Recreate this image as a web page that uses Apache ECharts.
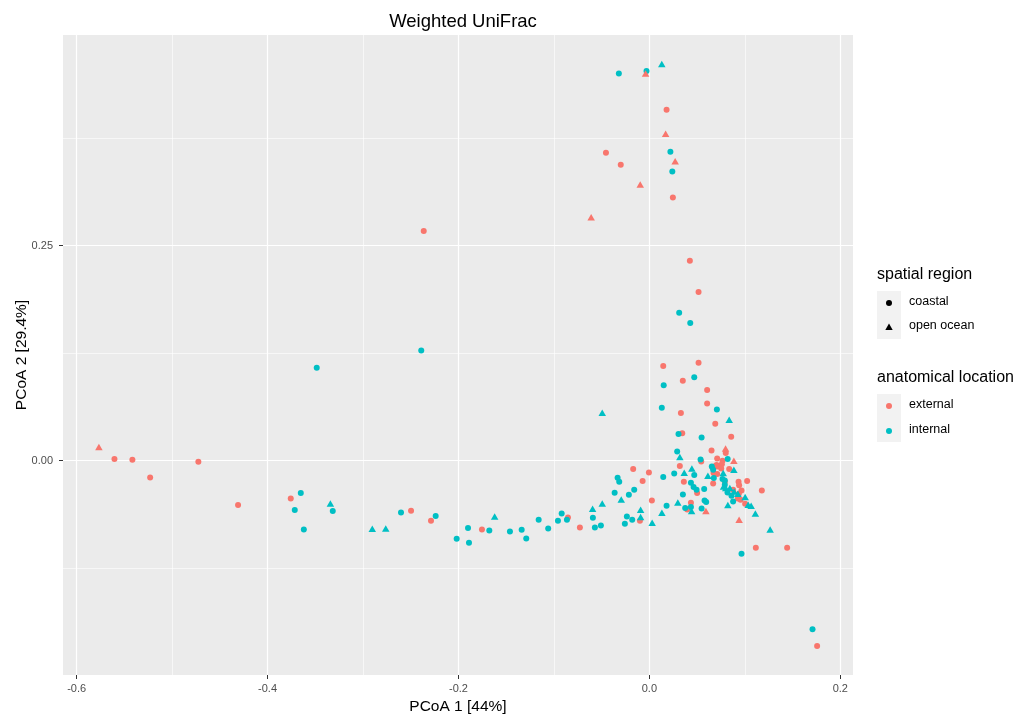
<!DOCTYPE html>
<html><head><meta charset="utf-8">
<script src="https://cdn.jsdelivr.net/npm/echarts@6/dist/echarts.min.js"></script>
<style>html,body{margin:0;padding:0;background:#fff}#c{width:1016px;height:721px}</style>
</head><body><div id="c"></div>
<script>
// ---- data ----
const xMajorTicks = [-0.6, -0.4, -0.2, 0.0, 0.2];
const xMinorTicks = [-0.5, -0.3, -0.1, 0.1];
const yMajorTicks = [0.0, 0.25];
const yMinorTicks = [-0.125, 0.125, 0.375];

const externalCoastal = [
  [-0.0455,0.358],[-0.030,0.344],[0.018,0.408],[0.0246,0.306],[-0.2364,0.267],[0.0424,0.2325],
  [0.0515,0.196],[0.0145,0.110],[0.0515,0.1137],[0.035,0.093],[0.0605,0.0823],[0.0605,0.0664],
  [0.033,0.0553],[0.069,0.0429],[0.0344,0.032],[0.0857,0.0278],[0.0651,0.0118],[0.080,0.0088],
  [0.0543,-0.0009],[0.071,0.0026],[0.0766,0.000],[-0.017,-0.0098],[-0.0005,-0.0137],[-0.0071,-0.0237],
  [0.0319,-0.0063],[0.0361,-0.0245],[0.050,-0.0376],[0.0662,-0.0079],[0.0704,-0.0051],[0.0759,-0.004],
  [0.0026,-0.0462],[0.0435,-0.0489],[0.0396,-0.0567],[-0.0728,-0.0776],[-0.0099,-0.0698],[0.1178,-0.0346],
  [0.1024,-0.0237],[0.0836,-0.0098],[0.0679,-0.0067],[0.071,-0.0067],[0.0752,-0.009],[0.0672,-0.0144],
  [0.071,-0.0156],[0.0668,-0.0265],[0.0934,-0.0245],[0.094,-0.0284],[0.079,-0.0245],[0.0877,-0.0338],
  [0.0965,-0.0346],[0.0937,-0.0384],[0.0927,-0.0439],[0.0955,-0.0454],[0.1003,-0.050],[0.1115,-0.1012],
  [0.1443,-0.1012],[0.1757,-0.2153],[-0.5604,0.0019],[-0.5416,0.001],[-0.523,-0.0195],[-0.4725,-0.0013],
  [-0.4309,-0.0516],[-0.3757,-0.0439],[-0.2497,-0.0582],[-0.2288,-0.0698],[-0.1754,-0.0799],[-0.0853,-0.066]
];
const externalOpenOcean = [
  [-0.004,0.450],[0.017,0.380],[0.027,0.348],[-0.0096,0.321],[-0.061,0.283],[0.0798,0.0142],
  [0.0885,0.000],[0.0592,-0.0585],[0.094,-0.0686],[-0.5767,0.0158]
];
const internalCoastal = [
  [-0.032,0.450],[-0.003,0.453],[0.022,0.359],[0.024,0.336],[-0.239,0.128],[-0.3485,0.108],
  [0.0312,0.172],[0.0428,0.160],[0.047,0.097],[0.015,0.0878],[0.013,0.0614],[0.0707,0.0595],
  [0.0305,0.031],[0.0547,0.027],[0.0291,0.0107],[0.0536,0.0014],[0.082,0.002],[-0.0333,-0.0199],
  [-0.0316,-0.0245],[0.0145,-0.019],[0.026,-0.0149],[0.047,-0.0167],[0.0435,-0.0257],[0.0463,-0.0307],
  [0.0494,-0.0338],[0.0574,-0.033],[-0.0364,-0.0373],[-0.0215,-0.0396],[-0.0159,-0.0338],[0.018,-0.0524],
  [0.0351,-0.0393],[0.0375,-0.0551],[0.0435,-0.0539],[0.0578,-0.0462],[0.0595,-0.0481],[0.0547,-0.0555],
  [-0.0592,-0.0663],[-0.0571,-0.0776],[-0.0508,-0.0753],[-0.0257,-0.0733],[-0.0236,-0.0648],[-0.018,-0.0686],
  [0.0654,-0.0067],[0.0668,-0.0106],[0.0675,-0.0202],[0.0766,-0.0214],[0.079,-0.023],[0.079,-0.028],
  [0.0818,-0.0369],[0.086,-0.0408],[0.0877,-0.0474],[0.0965,-0.1081],[0.1709,-0.196],[-0.3652,-0.0376],
  [-0.3715,-0.0574],[-0.362,-0.0799],[-0.3317,-0.0585],[-0.2602,-0.0602],[-0.2239,-0.0644],[-0.2019,-0.0907],
  [-0.19,-0.0783],[-0.189,-0.0954],[-0.1677,-0.0811],[-0.1461,-0.0822],[-0.1338,-0.0803],[-0.129,-0.0904],
  [-0.116,-0.0686],[-0.106,-0.0787],[-0.0958,-0.0698],[-0.0919,-0.0613],[-0.0864,-0.0686]
];
const internalOpenOcean = [
  [0.013,0.461],[-0.0494,0.0556],[0.0836,0.0475],[0.0319,0.0042],[0.0365,-0.014],[0.0445,-0.0091],
  [0.0613,-0.0175],[-0.0295,-0.045],[0.0298,-0.0485],[0.0442,-0.0585],[-0.0595,-0.0559],[-0.0494,-0.0497],
  [-0.0092,-0.057],[-0.0092,-0.0655],[0.0029,-0.0721],[0.0131,-0.0605],[0.111,-0.0613],[0.1265,-0.080],
  [0.0822,-0.0516],[0.0885,-0.0106],[0.0773,-0.0144],[0.0777,-0.030],[0.080,-0.0318],[0.0843,-0.0318],
  [0.0888,-0.0358],[0.0927,-0.0384],[0.1003,-0.0423],[0.1035,-0.0512],[0.1066,-0.0524],[-0.3342,-0.0497],
  [-0.2903,-0.0791],[-0.2762,-0.0787],[-0.1621,-0.0648]
];

const COL_EXT = '#F8766D', COL_INT = '#00BFC4';
const FONT = 'Liberation Sans, Arial, sans-serif';
const xMin = -0.6143, xMax = 0.2133, yMin = -0.2491, yMax = 0.4948;

function sc(name, data, color, symbol, size) {
  return { type: 'scatter', name, data, symbol, symbolSize: size,
    itemStyle: { color, opacity: 1 }, silent: true, animation: false };
}

function majorAxis(min, max, ticks, fmt, isX) {
  return {
    type: 'value', min, max, gridIndex: 0,
    position: isX ? 'bottom' : 'left',
    axisLine: { show: false, onZero: false },
    axisTick: { show: true, length: 4, lineStyle: { color: '#333333', width: 1 }, customValues: ticks },
    axisLabel: { show: true, customValues: ticks, formatter: v => v.toFixed(fmt),
      color: '#4D4D4D', fontSize: 11, fontFamily: FONT, margin: isX ? 8 : 10 },
    splitLine: { show: true, customValues: ticks, lineStyle: { color: '#FFFFFF', width: 1.2 } },
    minorTick: { show: false }, minorSplitLine: { show: false }
  };
}
function minorAxis(min, max, ticks, isX) {
  return {
    type: 'value', min, max, gridIndex: 0,
    position: isX ? 'top' : 'right',
    axisLine: { show: false, onZero: false },
    axisTick: { show: false, customValues: ticks },
    axisLabel: { show: false, customValues: ticks },
    splitLine: { show: true, customValues: ticks, lineStyle: { color: '#FFFFFF', width: 0.6 } }
  };
}

const xa = majorAxis(xMin, xMax, xMajorTicks, 1, true);
xa.name = 'PCoA 1 [44%]'; xa.nameLocation = 'middle'; xa.nameGap = 21;
xa.nameTextStyle = { color: '#000', fontSize: 15.5, fontFamily: FONT };
const ya = majorAxis(yMin, yMax, yMajorTicks, 2, false);
ya.name = 'PCoA 2 [29.4%]'; ya.nameLocation = 'middle'; ya.nameGap = 33; ya.nameMoveOverlap = false;
ya.nameTextStyle = { color: '#000', fontSize: 15.5, fontFamily: FONT };

const legendText = { fill: '#000', fontSize: 12.5, fontFamily: FONT, verticalAlign: 'middle' };
const titleText = { fill: '#000', fontSize: 16, fontFamily: FONT, verticalAlign: 'middle' };

const option = {
  backgroundColor: '#FFFFFF',
  animation: false,
  title: { text: 'Weighted UniFrac', left: 458, top: 7, textAlign: 'center',
    textStyle: { color: '#000', fontSize: 18.5, fontWeight: 'normal', fontFamily: FONT } },
  grid: { left: 63, right: 163, top: 35, bottom: 46, show: true, backgroundColor: '#EBEBEB', borderWidth: 0,
    containLabel: false, outerBoundsMode: 'none' },
  xAxis: [xa, minorAxis(xMin, xMax, xMinorTicks, true)],
  yAxis: [ya, minorAxis(yMin, yMax, yMinorTicks, false)],
  series: [
    sc('external coastal', externalCoastal, COL_EXT, 'circle', 6),
    sc('internal coastal', internalCoastal, COL_INT, 'circle', 6),
    sc('external open ocean', externalOpenOcean, COL_EXT, 'triangle', [7.5, 6.5]),
    sc('internal open ocean', internalOpenOcean, COL_INT, 'triangle', [7.5, 6.5])
  ],
  graphic: [
    { type: 'text', left: 877, top: 267, style: Object.assign({ text: 'spatial region' }, titleText) },
    { type: 'rect', shape: { x: 877, y: 291, width: 24, height: 48 }, style: { fill: '#F2F2F2' } },
    { type: 'circle', shape: { cx: 889, cy: 303, r: 3 }, style: { fill: '#000' } },
    { type: 'polygon', shape: { points: [[889, 323.5], [885.3, 330], [892.7, 330]] }, style: { fill: '#000' } },
    { type: 'text', left: 909, top: 295, style: Object.assign({ text: 'coastal' }, legendText) },
    { type: 'text', left: 909, top: 319, style: Object.assign({ text: 'open ocean' }, legendText) },
    { type: 'text', left: 877, top: 370, style: Object.assign({ text: 'anatomical location' }, titleText) },
    { type: 'rect', shape: { x: 877, y: 394, width: 24, height: 48 }, style: { fill: '#F2F2F2' } },
    { type: 'circle', shape: { cx: 889, cy: 406, r: 3 }, style: { fill: COL_EXT } },
    { type: 'circle', shape: { cx: 889, cy: 431, r: 3 }, style: { fill: COL_INT } },
    { type: 'text', left: 909, top: 398, style: Object.assign({ text: 'external' }, legendText) },
    { type: 'text', left: 909, top: 423, style: Object.assign({ text: 'internal' }, legendText) }
  ]
};
const chart = echarts.init(document.getElementById('c'), null, { renderer: 'canvas' });
chart.setOption(option);
</script></body></html>
